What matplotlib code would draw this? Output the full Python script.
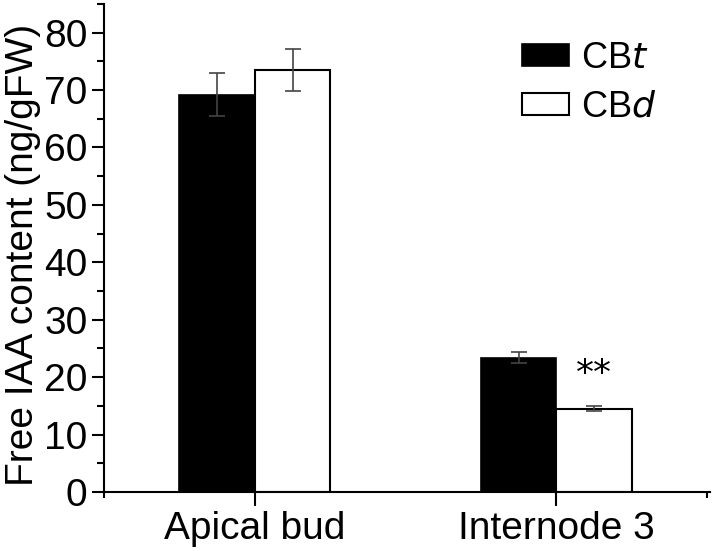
import matplotlib
matplotlib.use("Agg")
import matplotlib.pyplot as plt
import numpy as np
from matplotlib.ticker import MultipleLocator, FixedLocator

categories = ["Apical bud", "Internode 3"]
cbt_values = [69.2, 23.4]
cbt_errors = [3.7, 1.0]
cbd_values = [73.5, 14.5]
cbd_errors = [3.6, 0.4]
yticks = [0, 10, 20, 30, 40, 50, 60, 70, 80]

plt.rcParams['font.family'] = ['Liberation Sans', 'DejaVu Sans']

fig = plt.figure(figsize=(7.14, 5.51), dpi=100)
ax = fig.add_axes([0.1457, 0.107, 0.849, 0.886])

x = np.arange(1, len(categories) + 1)
w = 0.25
ax.bar(x - w / 2, cbt_values, w, color='black', edgecolor='black', linewidth=1.2, label='CB$\\it{t}$')
ax.bar(x + w / 2, cbd_values, w, color='white', edgecolor='black', linewidth=1.5, label='CB$\\it{d}$')
ax.errorbar(x - w / 2, cbt_values, yerr=cbt_errors, fmt='none', ecolor='#444444', elinewidth=1.2, capsize=6, capthick=1.2)
ax.errorbar(x + w / 2, cbd_values, yerr=cbd_errors, fmt='none', ecolor='#444444', elinewidth=1.2, capsize=6, capthick=1.2)

ax.text(x[1] + w / 2, cbt_values[1] - 2.8, '**', ha='center', va='center', fontsize=26, family='DejaVu Sans')

ax.set_xlim(0.5, 2.51)
ax.set_ylim(0, 85)
ax.set_xticks(x)
ax.set_xticklabels(categories, fontsize=28)
ax.xaxis.set_minor_locator(FixedLocator([0.5, 2.5]))
ax.set_yticks(yticks)
ax.set_yticklabels([str(v) for v in yticks], fontsize=28)
ax.yaxis.set_minor_locator(MultipleLocator(5))
ax.tick_params(axis='y', which='major', direction='out', length=9, width=1.5, pad=3)
ax.tick_params(axis='y', which='minor', direction='out', length=5, width=1.5)
ax.tick_params(axis='x', which='major', direction='out', length=10, width=1.5, pad=4)
ax.tick_params(axis='x', which='minor', direction='out', length=4, width=1.5)
ax.spines['top'].set_visible(False)
ax.spines['right'].set_visible(False)
ax.spines['left'].set_linewidth(1.5)
ax.spines['bottom'].set_linewidth(1.5)
ax.set_ylabel('Free IAA content (ng/gFW)', fontsize=28)
ax.yaxis.set_label_coords(-0.104, 0.485)

ax.legend(loc='upper left', bbox_to_anchor=(0.689, 0.924), frameon=False, fontsize=26,
          handlelength=1.3, handleheight=0.55, handletextpad=0.35, labelspacing=0.38,
          borderpad=0, borderaxespad=0)

fig.savefig('out.png', dpi=100)
